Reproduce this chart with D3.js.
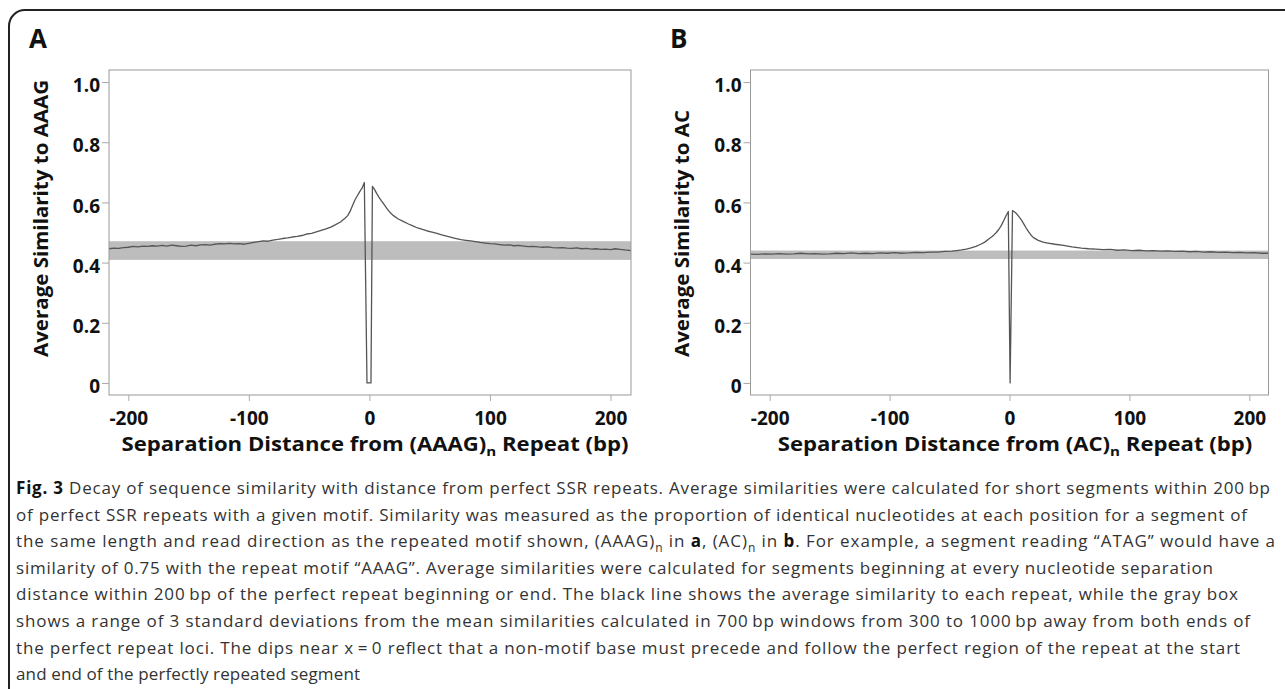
<!DOCTYPE html>
<html>
<head>
<meta charset="utf-8">
<script src="https://cdn.jsdelivr.net/npm/d3@7"></script>
<style>
  body { margin: 0; background: #fff; }
  svg text { font-family: "Open Sans", sans-serif; }
</style>
</head>
<body>
<svg id="fig" width="1285" height="689"></svg>
<script>
// axis ticks
var xTicks = [-200, -100, 0, 100, 200];
var yTicks = [0, 0.2, 0.4, 0.6, 0.8, 1.0];

// panel A: (AAAG)n
var posA = [-216, -212, -208, -204, -200, -196, -192, -188, -184, -180, -176, -172, -168, -164, -160,
  -156, -152, -148, -144, -140, -136, -132, -128, -124, -120, -116, -112, -108, -104, -100,
  -96, -92, -88, -84, -80, -76, -72, -68, -64, -60, -56, -52, -48, -44, -40, -36, -32, -28,
  -24, -20, -18, -16, -14, -12, -10, -8, -6, -4.2, -2, 1.3, 2.5,
  4, 6, 8, 10, 12, 14, 16, 18, 20, 24, 28, 32, 36, 40, 44, 48, 52, 56, 60, 64, 68, 72, 76, 80,
  84, 88, 92, 96, 100, 104, 108, 112, 116, 120, 124, 128, 132, 136, 140, 144, 148, 152, 156,
  160, 164, 168, 172, 176, 180, 184, 188, 192, 196, 200, 204, 208, 212, 217];
var simA = [0.446, 0.448, 0.447, 0.450, 0.451, 0.454, 0.452, 0.455, 0.454, 0.456, 0.455, 0.457, 0.455, 0.458, 0.456,
  0.454, 0.455, 0.458, 0.456, 0.459, 0.460, 0.458, 0.461, 0.463, 0.462, 0.464, 0.462, 0.463, 0.461, 0.464,
  0.467, 0.470, 0.472, 0.471, 0.475, 0.477, 0.480, 0.482, 0.485, 0.487, 0.490, 0.495, 0.497, 0.502, 0.507, 0.512, 0.518, 0.526,
  0.535, 0.548, 0.556, 0.570, 0.590, 0.608, 0.622, 0.636, 0.648, 0.666, 0, 0, 0.653,
  0.645, 0.630, 0.617, 0.605, 0.594, 0.583, 0.572, 0.563, 0.556, 0.545, 0.537, 0.529, 0.522, 0.515, 0.510, 0.505, 0.501, 0.497, 0.492, 0.488, 0.484, 0.480, 0.476, 0.474,
  0.472, 0.470, 0.467, 0.465, 0.463, 0.462, 0.460, 0.458, 0.459, 0.456, 0.457, 0.455, 0.453, 0.454, 0.452, 0.451, 0.452, 0.450, 0.449,
  0.450, 0.448, 0.447, 0.449, 0.446, 0.447, 0.445, 0.446, 0.444, 0.445, 0.443, 0.446, 0.444, 0.442, 0.440];
var bandA = [0.409, 0.471];

// panel B: (AC)n
var posB = [-216, -210, -204, -198, -192, -186, -180, -174, -168, -162, -156, -150, -144, -138, -132, -126,
  -120, -114, -108, -102, -96, -90, -84, -78, -72, -66, -60, -54, -48, -44, -40, -36, -32, -28, -24,
  -21, -19, -17, -15, -13, -11, -9, -7, -5, -3, -1, 0.5, 2.5,
  4, 6, 8, 10, 12, 14, 16, 18, 20, 24, 28, 32, 38, 45, 52, 60, 66, 72, 78, 84, 90, 96, 102, 108, 114,
  120, 126, 132, 138, 144, 150, 156, 162, 168, 174, 180, 186, 192, 198, 204, 210, 216];
var simB = [0.428, 0.427, 0.429, 0.428, 0.430, 0.428, 0.429, 0.431, 0.429, 0.430, 0.428, 0.429, 0.431, 0.430, 0.432, 0.430,
  0.431, 0.430, 0.432, 0.431, 0.433, 0.431, 0.432, 0.434, 0.433, 0.435, 0.435, 0.437, 0.438, 0.440, 0.442, 0.445, 0.449, 0.454, 0.461,
  0.467, 0.473, 0.479, 0.485, 0.492, 0.500, 0.510, 0.522, 0.538, 0.555, 0.570, 0, 0.573,
  0.569, 0.562, 0.552, 0.541, 0.528, 0.514, 0.502, 0.491, 0.483, 0.474, 0.468, 0.465, 0.461, 0.457, 0.452, 0.448, 0.446, 0.445, 0.443, 0.444, 0.441, 0.442, 0.440, 0.441, 0.439,
  0.440, 0.438, 0.439, 0.437, 0.438, 0.436, 0.437, 0.435, 0.436, 0.434, 0.435, 0.433, 0.434, 0.432, 0.433, 0.431, 0.431];
var bandB = [0.412, 0.440];

// caption lines, split into plain / bold / subscript runs
var captionLines = [
  [['b', 'Fig. 3'], ['t', ' Decay of sequence similarity with distance from perfect SSR repeats. Average similarities were calculated for short segments within 200\u2009bp']],
  [['t', 'of perfect SSR repeats with a given motif. Similarity was measured as the proportion of identical nucleotides at each position for a segment of']],
  [['t', 'the same length and read direction as the repeated motif shown, (AAAG)'], ['s', 'n'], ['t', ' in '], ['b', 'a'], ['t', ', (AC)'], ['s', 'n'], ['t', ' in '], ['b', 'b'], ['t', '. For example, a segment reading \u201cATAG\u201d would have a']],
  [['t', 'similarity of 0.75 with the repeat motif \u201cAAAG\u201d. Average similarities were calculated for segments beginning at every nucleotide separation']],
  [['t', 'distance within 200\u2009bp of the perfect repeat beginning or end. The black line shows the average similarity to each repeat, while the gray box']],
  [['t', 'shows a range of 3 standard deviations from the mean similarities calculated in 700\u2009bp windows from 300 to 1000\u2009bp away from both ends of']],
  [['t', 'the perfect repeat loci. The dips near x\u2009=\u20090 reflect that a non-motif base must precede and follow the perfect region of the repeat at the start']],
  [['t', 'and end of the perfectly repeated segment']]
];
var captionEnds = [1270, 1247, 1275, 1213, 1238, 1250, 1240, 360];

var svg = d3.select('#fig');

svg.append('rect')
    .attr('width', 1285).attr('height', 689)
    .attr('fill', '#fff');

// outer frame, cut off right and bottom
svg.append('rect')
    .attr('x', 9).attr('y', 10)
    .attr('width', 1320).attr('height', 720)
    .attr('rx', 16).attr('ry', 16)
    .attr('fill', 'none')
    .attr('stroke', '#222')
    .attr('stroke-width', 2);

var y = d3.scaleLinear().domain([-0.04, 1.04]).range([395, 70]);

function drawPanel(opts) {
  var x = d3.scaleLinear().domain(opts.domain).range(opts.range);
  var g = svg.append('g');
  var left = opts.range[0], right = opts.range[1];

  g.append('rect')
      .attr('x', left).attr('width', right - left)
      .attr('y', y(opts.band[1]))
      .attr('height', y(opts.band[0]) - y(opts.band[1]))
      .attr('fill', '#bdbdbd');

  var pts = opts.pos.map(function(p, i) { return [p, opts.sim[i]]; });
  var line = d3.line()
      .x(function(d) { return x(d[0]); })
      .y(function(d) { return y(d[1]); });

  g.append('path')
      .datum(pts)
      .attr('d', line)
      .attr('fill', 'none')
      .attr('stroke', '#555')
      .attr('stroke-width', 1.3)
      .attr('stroke-linejoin', 'round');

  // frame of the plot area
  g.append('rect')
      .attr('x', left).attr('y', 70)
      .attr('width', right - left).attr('height', 325)
      .attr('fill', 'none')
      .attr('stroke', '#999')
      .attr('stroke-width', 1);

  var xAxis = g.append('g')
      .attr('transform', 'translate(0,395)')
      .call(d3.axisBottom(x).tickValues(xTicks).tickSize(6)
        .tickFormat(function(d) { return String(d); }));
  xAxis.select('.domain').remove();
  xAxis.selectAll('line').attr('stroke', '#aaa');
  xAxis.selectAll('text')
      .attr('y', 29.5).attr('dy', null)
      .attr('fill', '#111')
      .style('font-size', '19px').style('font-weight', 700);

  var yAxis = g.append('g')
      .attr('transform', 'translate(' + left + ',0)')
      .call(d3.axisLeft(y).tickValues(yTicks).tickSize(7)
        .tickFormat(function(d) { return d === 0 ? '0' : d3.format('.1f')(d); }));
  yAxis.select('.domain').remove();
  yAxis.selectAll('line').attr('stroke', '#aaa');
  yAxis.selectAll('text')
      .attr('x', -9).attr('dy', null).attr('y', 9.7)
      .attr('fill', '#111')
      .style('font-size', '19px').style('font-weight', 700);

  // panel letter
  svg.append('text')
      .attr('x', opts.letterX).attr('y', 48)
      .style('font-size', '26px').style('font-weight', 700)
      .attr('fill', '#111')
      .text(opts.letter);

  // y title
  svg.append('text')
      .attr('transform', 'translate(' + opts.yTitleX + ',357) rotate(-90)')
      .attr('textLength', opts.yTitleLen)
      .attr('lengthAdjust', 'spacingAndGlyphs')
      .style('font-size', '20px').style('font-weight', 700)
      .attr('fill', '#111')
      .text(opts.yTitle);

  // x title with subscript n
  var xt = svg.append('text')
      .attr('x', opts.xTitleX).attr('y', 451)
      .attr('text-anchor', 'middle')
      .style('font-size', '19px').style('font-weight', 700)
      .attr('fill', '#111');
  xt.append('tspan').text('Separation Distance from (' + opts.motif + ')');
  xt.append('tspan').attr('dy', 5).style('font-size', '13px').text('n');
  xt.append('tspan').attr('dy', -5).text(' Repeat (bp)');
  return xt;
}

var xtA = drawPanel({
  domain: [-216, 217], range: [109, 631],
  pos: posA, sim: simA, band: bandA,
  letter: 'A', letterX: 29,
  yTitle: 'Average Similarity to AAAG', yTitleX: 48, yTitleLen: 277,
  motif: 'AAAG', xTitleX: 375
});
var xtB = drawPanel({
  domain: [-216, 216], range: [750.5, 1268.5],
  pos: posB, sim: simB, band: bandB,
  letter: 'B', letterX: 670,
  yTitle: 'Average Similarity to AC', yTitleX: 688.5, yTitleLen: 247,
  motif: 'AC', xTitleX: 1015
});

// squeeze the x titles the same way so A spans ~507px
var kx = 507 / xtA.node().getComputedTextLength();
[xtA, xtB].forEach(function(t) {
  t.attr('textLength', t.node().getComputedTextLength() * kx)
   .attr('lengthAdjust', 'spacingAndGlyphs');
});

// caption
captionLines.forEach(function(runs, i) {
  var t = svg.append('text')
      .attr('x', 16).attr('y', 494 + i * 26.6)
      .style('font-size', '17px')
      .attr('fill', '#333');
  var shift = 0;
  runs.forEach(function(r) {
    var s = t.append('tspan').text(r[1]);
    if (r[0] === 'b') s.style('font-weight', 700).attr('fill', '#111');
    if (r[0] === 's') { s.attr('dy', 5 - shift).style('font-size', '12px'); shift = 5; }
    else if (shift) { s.attr('dy', -shift); shift = 0; }
  });
  t.attr('textLength', captionEnds[i] - 16).attr('lengthAdjust', 'spacing');
});
</script>
</body>
</html>
